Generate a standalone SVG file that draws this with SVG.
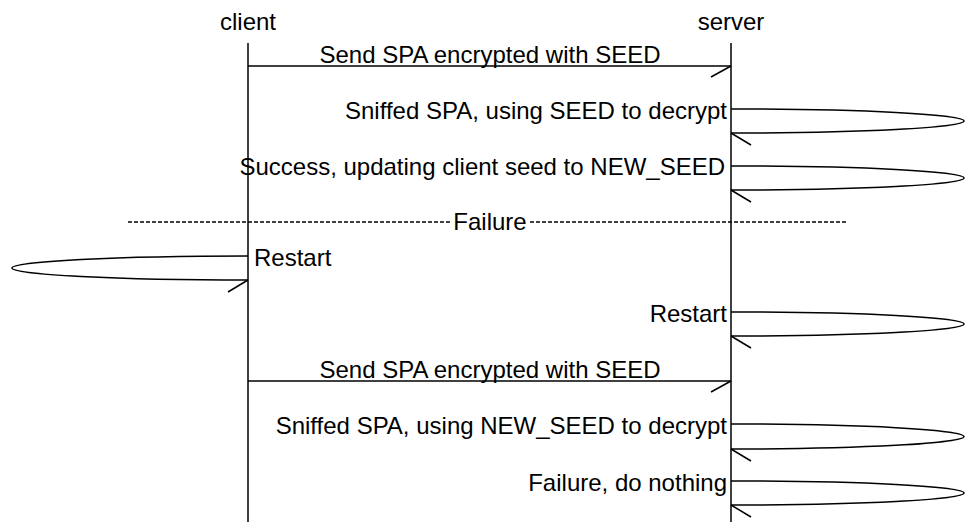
<svg xmlns="http://www.w3.org/2000/svg" width="965" height="522" viewBox="0 0 965 522">
  <style>
    text { font-family: "Liberation Sans", Arial, sans-serif; font-size: 24px; fill: #000; }
    .line { stroke: #000; stroke-width: 1.5; fill: none; }
    .tick { stroke: #000; stroke-width: 1.5; fill: none; }
    .dash { stroke: #000; stroke-width: 1.3; stroke-dasharray: 4 2; fill: none; }
    .end { text-anchor: end; }
    .mid { text-anchor: middle; }
  </style>
  <rect width="965" height="522" fill="#fff"/>

  <!-- participants -->
  <g id="client">
    <text class="mid" x="248" y="30">client</text>
    <line class="line" x1="248" y1="43" x2="248" y2="522"/>
  </g>
  <g id="server">
    <text class="mid" x="731" y="30">server</text>
    <line class="line" x1="731" y1="43" x2="731" y2="522"/>
  </g>

  <!-- section divider -->
  <g id="divider">
    <line class="dash" x1="128" y1="222" x2="848" y2="222"/>
    <rect x="452" y="212" width="76" height="22" fill="#fff"/>
    <text class="mid" x="490" y="230">Failure</text>
  </g>

  <!-- messages; self-messages are half ellipses (ry = half the gap) -->
  <g id="connectors">
    <!-- client -> server -->
    <path class="line" d="M248,66 H731"/>
    <path class="tick" d="M731,66 L711,77"/>

    <!-- server self: decrypt with SEED -->
    <path class="line" d="M731,109 A233,12 0 0 1 731,133"/>
    <path class="tick" d="M731,133 L751,145"/>

    <!-- server self: update seed -->
    <path class="line" d="M731,166 A233,12 0 0 1 731,190"/>
    <path class="tick" d="M731,190 L751,202"/>

    <!-- client self: restart -->
    <path class="line" d="M248,256 A236,12 0 0 0 248,280"/>
    <path class="tick" d="M248,280 L228,292"/>

    <!-- server self: restart -->
    <path class="line" d="M731,312 A233,12 0 0 1 731,336"/>
    <path class="tick" d="M731,336 L751,348"/>

    <!-- client -> server again -->
    <path class="line" d="M248,381 H731"/>
    <path class="tick" d="M731,381 L711,392"/>

    <!-- server self: decrypt with NEW_SEED -->
    <path class="line" d="M731,424 A233,12.5 0 0 1 731,449"/>
    <path class="tick" d="M731,449 L751,461"/>

    <!-- server self: failure -->
    <path class="line" d="M731,481 A233,12 0 0 1 731,505"/>
    <path class="tick" d="M731,505 L751,517"/>
  </g>

  <!-- message labels -->
  <g id="labels">
    <text class="mid" x="490" y="63">Send SPA encrypted with SEED</text>
    <text class="end" x="727" y="119">Sniffed SPA, using SEED to decrypt</text>
    <text class="end" x="725" y="175">Success, updating client seed to NEW_SEED</text>
    <text x="254" y="266">Restart</text>
    <text class="end" x="727" y="322">Restart</text>
    <text class="mid" x="490" y="378">Send SPA encrypted with SEED</text>
    <text class="end" x="727" y="434">Sniffed SPA, using NEW_SEED to decrypt</text>
    <text class="end" x="727" y="491">Failure, do nothing</text>
  </g>
</svg>
